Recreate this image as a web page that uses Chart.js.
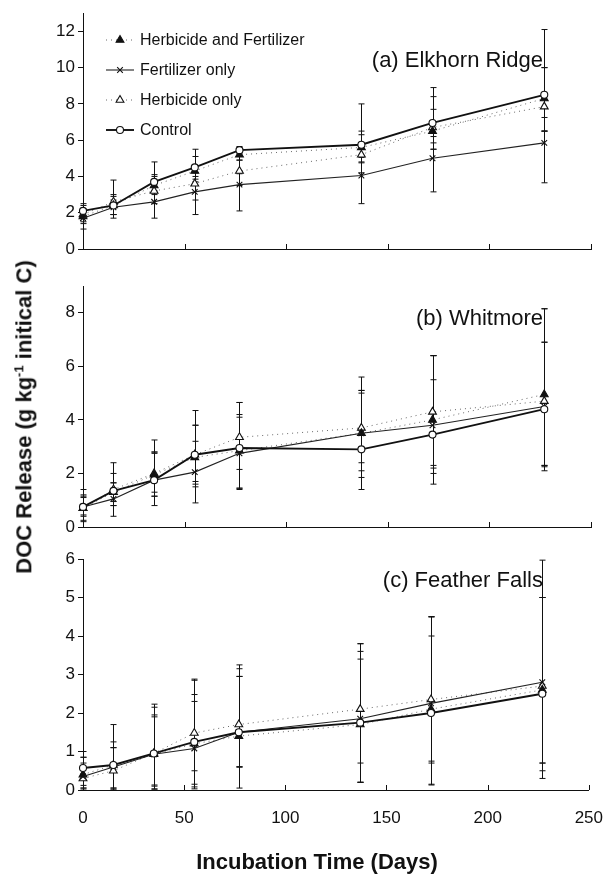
<!DOCTYPE html>
<html>
<head>
<meta charset="utf-8">
<script src="https://cdn.jsdelivr.net/npm/chart.js@4.4.1/dist/chart.umd.min.js"></script>
<style>
  body { margin: 0; background: #fff; width: 605px; height: 886px; position: relative; overflow: hidden;
         font-family: "Liberation Sans", Arial, sans-serif; color: #111; }
  .panel { position: absolute; left: 0; width: 605px; }
  .site { position: absolute; right: 62px; font-size: 22px; line-height: 22px; white-space: nowrap; }
  #ytitle { position: absolute; left: 22px; top: 417px; transform: translate(-50%, -50%) rotate(-90deg);
            white-space: nowrap; font-weight: bold; font-size: 22px; line-height: 22px; }
  #ytitle sup { font-size: 13px; }
  #xtitle { position: absolute; left: 317px; top: 862px; transform: translate(-50%, -50%);
            white-space: nowrap; font-weight: bold; font-size: 22px; line-height: 22px; }
</style>
</head>
<body>
<div class="panel" style="top:0;height:265px"><canvas id="chartA"></canvas></div>
<div class="panel" style="top:265px;height:280px"><canvas id="chartB"></canvas></div>
<div class="panel" style="top:545px;height:341px"><canvas id="chartC"></canvas></div>
<div class="site" style="top:49px">(a) Elkhorn Ridge</div>
<div class="site" style="top:307px">(b) Whitmore</div>
<div class="site" style="top:569px">(c) Feather Falls</div>
<div id="ytitle">DOC Release (g kg<sup>-1</sup> initical C)</div>
<div id="xtitle">Incubation Time (Days)</div>
<script>
// ---- data ----
const days = [0, 15, 35, 55, 77, 137, 172, 227];
const seriesNames = ["Herbicide and Fertilizer", "Fertilizer only", "Herbicide only", "Control"];
const xTicks = [0, 50, 100, 150, 200, 250];

// (a) Elkhorn Ridge
const elkHF   = [1.8, 2.4, 3.5, 4.3, 5.2, 5.6, 6.5, 8.3];
const elkFert = [1.7, 2.3, 2.6, 3.15, 3.55, 4.05, 5.0, 5.85];
const elkHerb = [1.9, 2.6, 3.2, 3.6, 4.3, 5.2, 6.7, 7.85];
const elkCtrl = [2.1, 2.4, 3.7, 4.5, 5.45, 5.75, 6.95, 8.5];
const elkHFUp   = [0.4, 0.5, 0.6, 0.8, 0.3, 0.9, 1.9, 1.7];
const elkHFDn   = [0.4, 0.5, 0.5, 0.6, 0.3, 0.8, 1.0, 1.8];
const elkFertUp = [0.5, 0.4, 0.6, 0.7, 0.6, 1.0, 1.2, 1.4];
const elkFertDn = [0.6, 0.6, 0.9, 1.25, 1.45, 1.55, 1.85, 2.2];
const elkHerbUp = [0.5, 1.2, 0.8, 0.6, 0.6, 1.1, 1.0, 2.15];
const elkHerbDn = [0.4, 0.7, 0.7, 0.9, 0.8, 1.0, 1.2, 1.35];
const elkCtrlUp = [0.4, 0.6, 1.1, 1.0, 0.2, 2.25, 1.95, 3.6];
const elkCtrlDn = [0.3, 0.5, 0.6, 0.5, 0.2, 1.0, 1.1, 2.0];

// (b) Whitmore
const whiHF   = [0.7, 1.3, 1.95, 2.6, 2.85, 3.5, 4.0, 4.95];
const whiFert = [0.75, 1.05, 1.75, 2.05, 2.75, 3.5, 3.8, 4.5];
const whiHerb = [0.7, 1.4, 2.0, 2.7, 3.35, 3.7, 4.3, 4.7];
const whiCtrl = [0.75, 1.35, 1.75, 2.7, 2.95, 2.9, 3.45, 4.4];
const whiHFUp   = [0.5, 0.7, 1.3, 1.2, 1.35, 1.6, 2.4, 3.2];
const whiHFDn   = [0.45, 0.5, 0.8, 1.0, 0.7, 1.4, 1.8, 2.7];
const whiFertUp = [0.35, 0.6, 1.0, 1.15, 1.35, 1.5, 1.7, 2.4];
const whiFertDn = [0.35, 0.65, 0.95, 1.15, 1.35, 1.1, 1.5, 2.2];
const whiHerbUp = [0.7, 1.0, 0.8, 1.65, 1.3, 1.9, 2.1, 2.2];
const whiHerbDn = [0.5, 0.6, 0.7, 1.0, 1.9, 1.85, 2.3, 2.6];
const whiCtrlUp = [0.4, 0.3, 1.05, 1.1, 1.7, 2.2, 2.95, 3.75];
const whiCtrlDn = [0.3, 0.4, 0.6, 1.2, 1.5, 1.5, 1.85, 2.1];

// (c) Feather Falls
const feaHF   = [0.4, 0.65, 0.93, 1.2, 1.4, 1.7, 2.1, 2.6];
const feaFert = [0.35, 0.6, 0.93, 1.08, 1.5, 1.85, 2.25, 2.8];
const feaHerb = [0.3, 0.5, 0.95, 1.48, 1.7, 2.1, 2.35, 2.7];
const feaCtrl = [0.57, 0.65, 0.95, 1.25, 1.5, 1.75, 2.0, 2.5];
const feaHFUp   = [0.45, 0.6, 1.3, 1.1, 1.55, 1.7, 2.4, 2.4];
const feaHFDn   = [0.35, 0.6, 0.9, 1.05, 0.8, 1.5, 1.4, 1.9];
const feaFertUp = [0.5, 0.5, 0.97, 1.4, 1.45, 1.75, 1.75, 2.2];
const feaFertDn = [0.3, 0.55, 0.8, 1.0, 1.45, 1.65, 2.1, 2.1];
const feaHerbUp = [0.4, 0.6, 1.0, 1.4, 1.45, 1.7, 2.15, 2.3];
const feaHerbDn = [0.3, 0.5, 0.85, 1.45, 1.1, 1.9, 1.6, 2.2];
const feaCtrlUp = [0.43, 1.05, 1.2, 1.6, 1.75, 2.05, 2.5, 3.47];
const feaCtrlDn = [0.45, 0.65, 0.93, 0.75, 0.9, 1.05, 1.87, 2.2];

// ---- styles ----
const styles = [
  { pointStyle: "triangle", pointRadius: 4.5, pointBackgroundColor: "#111", pointBorderColor: "#111",
    borderColor: "#444", borderWidth: 0.8, borderDash: [1, 4], order: 2 },
  { pointStyle: "crossRot", pointRadius: 4, pointBackgroundColor: "#111", pointBorderColor: "#111",
    borderColor: "#222", borderWidth: 1.1, borderDash: [], order: 1 },
  { pointStyle: "triangle", pointRadius: 4.5, pointBackgroundColor: "#fff", pointBorderColor: "#111",
    borderColor: "#444", borderWidth: 0.8, borderDash: [1, 4], order: 3 },
  { pointStyle: "circle", pointRadius: 3.5, pointBackgroundColor: "#fff", pointBorderColor: "#111",
    borderColor: "#111", borderWidth: 1.9, borderDash: [], order: 0 }
];

function buildDatasets(values, ups, downs) {
  return values.map((vals, s) => Object.assign({
    label: seriesNames[s],
    data: vals.map((v, i) => ({ x: days[i], y: v })),
    errUp: ups[s],
    errDown: downs[s],
    pointBorderWidth: 1.1,
    tension: 0,
    fill: false,
    clip: false
  }, styles[s]));
}

// error bars drawn under the markers
const errorBars = {
  id: "errorBars",
  beforeDatasetsDraw(chart) {
    const ctx = chart.ctx, xs = chart.scales.x, ys = chart.scales.y;
    ctx.save();
    ctx.strokeStyle = "#111";
    ctx.lineWidth = 1;
    chart.data.datasets.forEach(ds => {
      ds.data.forEach((p, i) => {
        const px = Math.round(xs.getPixelForValue(p.x)) + 0.5;
        const top = ys.getPixelForValue(p.y + ds.errUp[i]);
        const bot = ys.getPixelForValue(Math.max(0, p.y - ds.errDown[i]));
        ctx.beginPath();
        ctx.moveTo(px, top); ctx.lineTo(px, bot);
        ctx.moveTo(px - 3, top); ctx.lineTo(px + 3, top);
        ctx.moveTo(px - 3, bot); ctx.lineTo(px + 3, bot);
        ctx.stroke();
      });
    });
    ctx.restore();
  }
};

// x ticks pointing into the plot
const innerTicks = {
  id: "innerTicks",
  afterDraw(chart) {
    const xs = chart.scales.x, area = chart.chartArea, ctx = chart.ctx;
    ctx.save();
    ctx.strokeStyle = "#111";
    ctx.lineWidth = 1;
    xs.ticks.forEach(t => {
      if (t.value === 0) return;
      const px = Math.round(xs.getPixelForValue(t.value)) + 0.5;
      ctx.beginPath();
      ctx.moveTo(px, area.bottom);
      ctx.lineTo(px, area.bottom - 5);
      ctx.stroke();
    });
    ctx.restore();
  }
};

// legend inside panel (a)
const insideLegend = {
  id: "insideLegend",
  afterDraw(chart) {
    const ctx = chart.ctx;
    ctx.save();
    seriesNames.forEach((name, i) => {
      const ds = chart.data.datasets.find(d => d.label === name);
      const y = 40 + 30 * i;
      ctx.strokeStyle = ds.borderColor;
      ctx.lineWidth = ds.borderWidth;
      ctx.setLineDash(ds.borderDash);
      ctx.beginPath();
      ctx.moveTo(106, y); ctx.lineTo(134, y);
      ctx.stroke();
      ctx.setLineDash([]);
      ctx.fillStyle = ds.pointBackgroundColor;
      ctx.strokeStyle = ds.pointBorderColor;
      ctx.lineWidth = ds.pointBorderWidth;
      Chart.helpers.drawPoint(ctx, { pointStyle: ds.pointStyle, radius: ds.pointRadius,
        borderWidth: ds.pointBorderWidth, rotation: 0 }, 120, y);
      ctx.fillStyle = "#111";
      ctx.font = '16px "Liberation Sans", Arial, sans-serif';
      ctx.textBaseline = "middle";
      ctx.textAlign = "left";
      ctx.fillText(name, 140, y + 1);
    });
    ctx.restore();
  }
};

function makePanel(id, datasets, yMax, yStep, padTop, xHeight, showXLabels, extraPlugins) {
  return new Chart(document.getElementById(id), {
    type: "line",
    data: { datasets },
    options: {
      responsive: true,
      maintainAspectRatio: false,
      animation: false,
      layout: { padding: { top: padTop, right: 14, left: 0, bottom: 0 } },
      plugins: { legend: { display: false }, tooltip: { enabled: false } },
      scales: {
        x: {
          type: "linear", min: 0, max: 250,
          afterBuildTicks: scale => { scale.ticks = xTicks.map(v => ({ value: v })); },
          grid: { display: false },
          border: { display: true, color: "#111", width: 1 },
          // tall line height pushes the labels down without widening the side padding
          ticks: { display: showXLabels, padding: 2, color: "#111",
                   font: { family: '"Liberation Sans", Arial, sans-serif', size: 17, lineHeight: 2.2 } },
          afterFit: scale => { scale.height = xHeight; }
        },
        y: {
          min: 0, max: yMax,
          grid: { drawOnChartArea: false, color: "#111", tickLength: 5, lineWidth: 1 },
          border: { display: true, color: "#111", width: 1 },
          ticks: { stepSize: yStep, includeBounds: false, padding: 3, color: "#111",
                   font: { family: '"Liberation Sans", Arial, sans-serif', size: 17 } },
          afterFit: scale => { scale.width = 83; }
        }
      }
    },
    plugins: [errorBars, innerTicks].concat(extraPlugins || [])
  });
}

makePanel("chartA",
  buildDatasets([elkHF, elkFert, elkHerb, elkCtrl],
                [elkHFUp, elkFertUp, elkHerbUp, elkCtrlUp],
                [elkHFDn, elkFertDn, elkHerbDn, elkCtrlDn]),
  13, 2, 12, 16, false, [insideLegend]);

makePanel("chartB",
  buildDatasets([whiHF, whiFert, whiHerb, whiCtrl],
                [whiHFUp, whiFertUp, whiHerbUp, whiCtrlUp],
                [whiHFDn, whiFertDn, whiHerbDn, whiCtrlDn]),
  9, 2, 21, 18, false);

makePanel("chartC",
  buildDatasets([feaHF, feaFert, feaHerb, feaCtrl],
                [feaHFUp, feaFertUp, feaHerbUp, feaCtrlUp],
                [feaHFDn, feaFertDn, feaHerbDn, feaCtrlDn]),
  6, 1, 14, 96, true);
</script>
</body>
</html>
